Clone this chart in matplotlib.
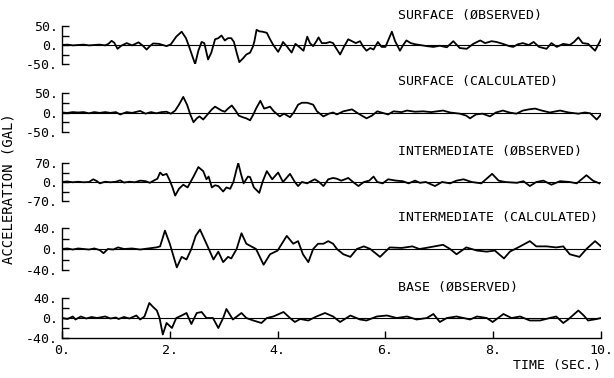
import matplotlib
matplotlib.use("Agg")
import matplotlib.pyplot as plt

# Registros de aceleración (tiempo en s, aceleración en gal)
surf_obs_t = [0.0, 0.1, 0.2, 0.3, 0.4, 0.5, 0.6, 0.7, 0.8, 0.86,
              0.92, 0.97, 1.03, 1.1, 1.2, 1.3, 1.42, 1.5, 1.57, 1.63,
              1.69, 1.8, 1.94, 2.02, 2.12, 2.22, 2.3, 2.36, 2.42, 2.47,
              2.53, 2.59, 2.64, 2.71, 2.77, 2.84, 2.9, 2.96, 3.02, 3.08,
              3.14, 3.19, 3.24, 3.29, 3.36, 3.42, 3.49, 3.54, 3.57, 3.61,
              3.66, 3.72, 3.8, 3.86, 3.92, 4.01, 4.06, 4.10, 4.18, 4.26,
              4.33, 4.40, 4.48, 4.55, 4.60, 4.66, 4.72, 4.76, 4.82, 4.90,
              4.97, 5.03, 5.07, 5.16, 5.23, 5.31, 5.38, 5.45, 5.53, 5.59,
              5.65, 5.72, 5.78, 5.86, 5.93, 6.00, 6.06, 6.12, 6.18, 6.27,
              6.33, 6.39, 6.47, 6.55, 6.64, 6.77, 6.89, 7.01, 7.14, 7.26,
              7.38, 7.51, 7.63, 7.70, 7.76, 7.85, 7.97, 8.06, 8.18, 8.30,
              8.37, 8.46, 8.55, 8.66, 8.75, 8.85, 8.99, 9.08, 9.18, 9.30,
              9.42, 9.50, 9.58, 9.66, 9.76, 9.89, 10.0]
surf_obs_a = [0, 1, -1, 0, 1, -1, 0, 1, -1, 3,
              11, 6, -10, -2, 5, -1, 7, -2, -12, -3,
              4, 3, -3, 2, 22, 35, 18, -5, -30, -50,
              -15, 8, 5, -38, -20, 15, 18, 25, 12, 18,
              18, 8, -20, -45, -35, -25, -20, -5, 10, 40,
              36, 35, 32, 15, 0, -18, -5, 8, -5, -20,
              3, -5, -15, 22, 5, -3, 10, 20, 5, 5,
              8, 5, -5, -25, -5, 15, 10, 5, 10, -5,
              -15, -8, -12, 8, -5, -5, 15, 35, 10, -15,
              0, 12, 5, 2, 0, -3, -5, -2, -6, 10,
              -8, -10, 3, 8, 12, 5, 10, 8, 3, -3,
              -5, 2, 5, 0, 8, -5, -10, 5, -5, 3,
              0, 8, 20, 5, 3, -15, 15]

surf_cal_t = [0.0, 0.1, 0.2, 0.3, 0.4, 0.5, 0.6, 0.7, 0.8, 0.9,
              1.0, 1.08, 1.2, 1.3, 1.45, 1.55, 1.65, 1.75, 1.85, 1.94,
              2.02, 2.1, 2.17, 2.25, 2.32, 2.38, 2.44, 2.5, 2.55, 2.62,
              2.7, 2.78, 2.84, 2.9, 2.96, 3.02, 3.08, 3.15, 3.22, 3.28,
              3.35, 3.42, 3.49, 3.55, 3.6, 3.68, 3.75, 3.8, 3.86, 3.93,
              4.04, 4.12, 4.23, 4.3, 4.38, 4.45, 4.55, 4.66, 4.73, 4.85,
              4.95, 5.03, 5.1, 5.22, 5.38, 5.5, 5.65, 5.75, 5.85, 6.05,
              6.15, 6.3, 6.4, 6.55, 6.7, 6.85, 7.07, 7.2, 7.38, 7.5,
              7.57, 7.68, 7.8, 7.94, 8.05, 8.18, 8.3, 8.43, 8.55, 8.66,
              8.78, 8.9, 9.05, 9.24, 9.4, 9.58, 9.7, 9.8, 9.92, 10.0]
surf_cal_a = [0, -1, 1, 0, 1, -2, 1, -1, 1, -1,
              1, -5, 1, -1, 4, -3, 1, -2, 1, 2,
              -3, 5, 20, 40, 20, -5, -25, -15, -10, -18,
              -5, 8, 15, 10, 5, 2, 10, 18, 5, -8,
              -12, -15, -20, -5, 10, 30, 10, 12, 15, 3,
              -10, -3, -12, 0, 20, 25, 25, 20, 3, -10,
              -3, 0, -5, 3, 8, -3, -15, -8, 3, -5,
              3, 1, 5, 2, 3, 1, 5, 0, -3, -8,
              -15, -5, -3, -10, 0, 5, 0, -3, 5, 8,
              10, 5, 0, 5, 0, -3, 0, -2, -18, -5]

int_obs_t = [0.0, 0.1, 0.2, 0.3, 0.4, 0.5, 0.58, 0.65, 0.7, 0.8,
             0.9, 1.0, 1.08, 1.15, 1.25, 1.35, 1.45, 1.55, 1.63, 1.7,
             1.77, 1.82, 1.87, 1.94, 2.0, 2.05, 2.1, 2.17, 2.25, 2.33,
             2.44, 2.53, 2.62, 2.68, 2.72, 2.78, 2.84, 2.9, 2.99, 3.05,
             3.12, 3.18, 3.23, 3.27, 3.32, 3.37, 3.45, 3.49, 3.56, 3.66,
             3.72, 3.8, 3.9, 4.01, 4.1, 4.23, 4.32, 4.38, 4.45, 4.55,
             4.62, 4.69, 4.77, 4.85, 4.94, 5.03, 5.1, 5.18, 5.25, 5.31,
             5.4, 5.5, 5.6, 5.7, 5.78, 5.85, 5.95, 6.05, 6.2, 6.32,
             6.43, 6.55, 6.64, 6.75, 6.92, 7.05, 7.2, 7.32, 7.45, 7.6,
             7.78, 7.98, 8.1, 8.22, 8.44, 8.56, 8.68, 8.8, 8.93, 9.08,
             9.24, 9.42, 9.55, 9.73, 9.85, 9.97]
int_obs_a = [0, 2, -1, 1, -1, 0, 10, 3, -5, 1,
             -1, 1, 6, -2, 1, -1, 5, 3, -3, 5,
             12, 35, 25, 30, 5, -20, -50, -25, -10, -20,
             20, 55, 40, 10, 20, -20, -12, -15, -35, -20,
             -25, 0, 40, 70, 30, -5, 20, 18, -20, -40,
             0, 40, 10, 35, 0, 30, 0, -15, 0, -5,
             3, 10, 0, -15, 10, 15, 12, 5, 10, 15,
             0, -15, 0, 5, 20, 0, -5, 10, 5, 3,
             -5, 5, -3, 0, -15, 0, -5, 5, 10, 0,
             -5, 30, 5, 0, -3, 3, -15, 0, 5, -10,
             3, 0, -5, 25, 5, -5]

int_cal_t = [0.0, 0.1, 0.2, 0.3, 0.4, 0.5, 0.6, 0.7, 0.77, 0.85,
             0.95, 1.04, 1.15, 1.3, 1.45, 1.6, 1.75, 1.82, 1.91, 2.0,
             2.13, 2.22, 2.31, 2.4, 2.48, 2.56, 2.68, 2.81, 2.9, 2.99,
             3.08, 3.14, 3.24, 3.33, 3.42, 3.51, 3.6, 3.74, 3.86, 4.0,
             4.17, 4.29, 4.38, 4.47, 4.57, 4.66, 4.75, 4.85, 4.94, 5.03,
             5.1, 5.22, 5.35, 5.47, 5.6, 5.72, 5.9, 6.08, 6.3, 6.5,
             6.63, 6.75, 7.07, 7.2, 7.32, 7.5, 7.7, 7.88, 8.03, 8.2,
             8.31, 8.5, 8.68, 8.8, 8.99, 9.17, 9.3, 9.42, 9.6, 9.73,
             9.89, 10.0]
int_cal_a = [0, 1, -1, 1, 0, -1, 1, -2, -8, 0,
             -1, 3, 0, 1, -1, 1, 3, 5, 35, 10,
             -35, -15, -20, 0, 25, 37, 10, -20, -5, -25,
             -15, -18, 0, 30, 10, 5, 0, -30, -10, -3,
             25, 10, 15, -10, -25, 0, 10, 10, 15, 10,
             0, -10, -15, 0, 5, 0, -15, 3, 2, 5,
             0, 2, 8, 0, -10, 3, -3, -5, -3, -18,
             -5, 5, 15, 5, 5, 3, 5, -10, -15, 0,
             15, 5]

base_obs_t = [0.0, 0.1, 0.2, 0.25, 0.35, 0.45, 0.55, 0.65, 0.8, 0.9,
              1.0, 1.05, 1.15, 1.25, 1.38, 1.45, 1.53, 1.62, 1.69, 1.76,
              1.81, 1.87, 1.94, 2.04, 2.12, 2.22, 2.31, 2.4, 2.5, 2.59,
              2.68, 2.8, 2.9, 2.99, 3.05, 3.17, 3.33, 3.42, 3.55, 3.7,
              3.8, 3.92, 4.11, 4.23, 4.32, 4.42, 4.57, 4.72, 4.88, 5.03,
              5.16, 5.35, 5.53, 5.65, 5.84, 6.03, 6.21, 6.4, 6.58, 6.77,
              6.89, 7.01, 7.14, 7.32, 7.45, 7.57, 7.7, 7.88, 7.99, 8.19,
              8.34, 8.5, 8.68, 8.87, 9.05, 9.17, 9.3, 9.39, 9.58, 9.68,
              9.76, 9.92, 10.0]
base_obs_a = [0, -2, 3, -3, 3, -1, 2, 0, 3, -1,
              1, -2, 2, -1, 5, -3, 3, 30, 22, 15,
              0, -33, -10, -20, 0, 5, 10, -12, 10, 12,
              0, 0, -20, 0, 18, -3, 10, 0, -5, -10,
              0, 3, 12, 0, -8, -2, -5, 3, 10, 3,
              -8, 5, -3, -5, 3, 5, 0, 3, -3, 0,
              8, -8, 0, 3, 0, -3, 3, 0, -8, 8,
              0, 3, -5, -5, 0, 3, -10, -3, 15, 5,
              -5, -2, 0]

titles = ["SURFACE (ØBSERVED)", "SURFACE (CALCULATED)", "INTERMEDIATE (ØBSERVED)",
          "INTERMEDIATE (CALCULATED)", "BASE (ØBSERVED)"]
limits = [50, 50, 70, 40, 40]
series = [(surf_obs_t, surf_obs_a), (surf_cal_t, surf_cal_a), (int_obs_t, int_obs_a),
          (int_cal_t, int_cal_a), (base_obs_t, base_obs_a)]
x_ticks = [0, 2, 4, 6, 8, 10]

plt.rcParams['font.family'] = ['DejaVu Sans Mono']
W, H = 614, 378
fig = plt.figure(figsize=(W / 100, H / 100), dpi=100)

# posiciones de los paneles en píxeles (arriba, abajo) y de los títulos
panel_px = [(26, 64), (93, 132), (163, 201), (228, 270), (298, 338)]
title_y = [15, 82, 152, 218, 288]
x0, x1 = 62, 601

for i, (t, a) in enumerate(series):
    top, bot = panel_px[i]
    ax = fig.add_axes([x0 / W, 1 - bot / H, (x1 - x0) / W, (bot - top) / H])
    ax.plot(t, a, color='black', lw=1.3)
    ax.axhline(0, color='black', lw=0.8)
    lim = limits[i]
    ax.set_xlim(0, 10)
    ax.set_ylim(-lim, lim)
    ax.set_yticks([-lim, 0, lim])
    ax.set_yticklabels([f"{-lim}.", "0.", f"{lim}."], fontsize=9.5)
    ax.set_yticks([-lim / 2, lim / 2], minor=True)
    ax.tick_params(axis='y', which='both', direction='in', length=5, width=1, pad=3)
    for s in ['top', 'right']:
        ax.spines[s].set_visible(False)
    ax.spines['left'].set_linewidth(1)
    if i < len(series) - 1:
        ax.spines['bottom'].set_visible(False)
        ax.set_xticks([])
    else:
        ax.set_xticks(x_ticks)
        ax.set_xticklabels([f"{v}." for v in x_ticks], fontsize=9.5)
        ax.tick_params(axis='x', direction='in', length=5, width=1, pad=4)
        ax.spines['bottom'].set_linewidth(1)
    fig.text(398 / W, 1 - title_y[i] / H, titles[i], fontsize=9.5, va='center', ha='left')

fig.text(9 / W, 1 - 189 / H, "ACCELERATION (GAL)", rotation=90, fontsize=10,
         va='center', ha='center')
fig.text(601 / W, 1 - 366 / H, "TIME (SEC.)", fontsize=9.5, va='center', ha='right')

fig.savefig("out.png", dpi=100)
